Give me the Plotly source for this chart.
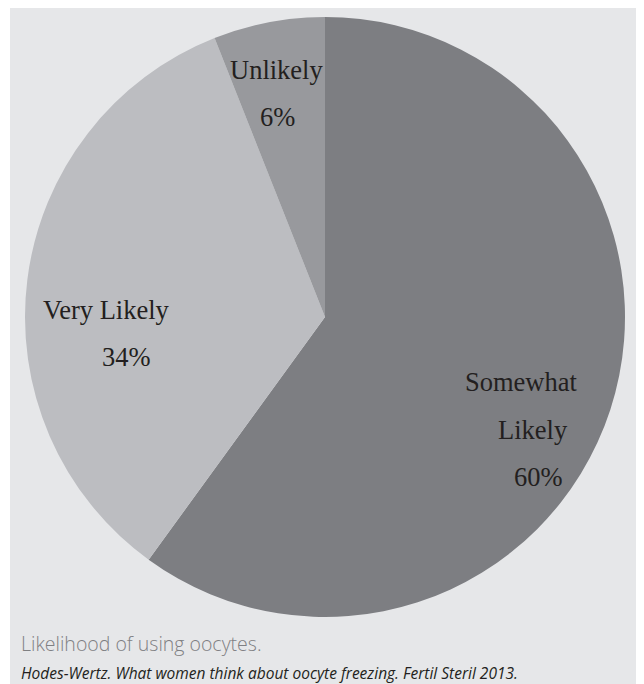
import plotly.graph_objects as go

categories = ["Somewhat Likely", "Very Likely", "Unlikely"]
values = [60, 34, 6]
slice_colors = ["#7d7e82", "#bcbdc1", "#98999d"]
caption = "Likelihood of using oocytes."
source = "Hodes-Wertz. What women think about oocyte freezing. Fertil Steril 2013."

# the page places the figure 8px in from the top-left corner
OX, OY = 8, 8
W, H = 644 - OX, 684 - OY


def px(x, y):
    """page pixel -> paper coordinates"""
    return (x - OX) / W, 1 - (y - OY) / H


cx, cy, r = 325, 317, 300
x0, y1 = px(cx - r, cy - r)
x1, y0 = px(cx + r, cy + r)

fig = go.Figure(go.Pie(
    labels=categories,
    values=values,
    sort=False,
    direction="clockwise",
    rotation=0,
    textinfo="none",
    hoverinfo="label+percent",
    marker=dict(colors=slice_colors, line=dict(width=0)),
    domain=dict(x=[x0, x1], y=[y0, y1]),
    showlegend=False,
))

serif = dict(family="Liberation Serif, Times New Roman, serif", size=26.5, color="#231f20")

label_lines = [
    ("Unlikely", 276, 70),
    (f"{values[2]}%", 277, 117),
    ("Very Likely", 106, 310),
    (f"{values[1]}%", 127, 357),
    ("Somewhat", 521, 382),
    ("Likely", 533, 430),
    (f"{values[0]}%", 538, 477),
]
annotations = []
for txt, x, y in label_lines:
    ax, ay = px(x, y)
    annotations.append(dict(text=txt, x=ax, y=ay, xref="paper", yref="paper",
                            xanchor="center", yanchor="middle", showarrow=False,
                            font=serif))

ax, ay = px(19, 643)
annotations.append(dict(text=caption, x=ax, y=ay,
                        xref="paper", yref="paper", xanchor="left", yanchor="middle",
                        showarrow=False,
                        font=dict(family="Open Sans, sans-serif", size=19.5,
                                  color="#7f8083", weight=300)))
ax, ay = px(19, 673)
annotations.append(dict(text=f"<i>{source}</i>",
                        x=ax, y=ay, xref="paper", yref="paper", xanchor="left", yanchor="middle",
                        showarrow=False,
                        font=dict(family="Open Sans, sans-serif", size=15.5, color="#231f20")))

px0, py1 = px(10, 7)
px1, _ = px(640, 684)

fig.update_layout(
    width=W, height=H,
    margin=dict(l=0, r=0, t=0, b=0),
    paper_bgcolor="white",
    plot_bgcolor="white",
    shapes=[dict(type="rect", xref="paper", yref="paper",
                 x0=max(px0, 0), x1=px1, y0=0, y1=min(py1, 1),
                 fillcolor="#e6e7e9", line=dict(width=0), layer="below")],
    annotations=annotations,
)

fig.write_html("out.html")
